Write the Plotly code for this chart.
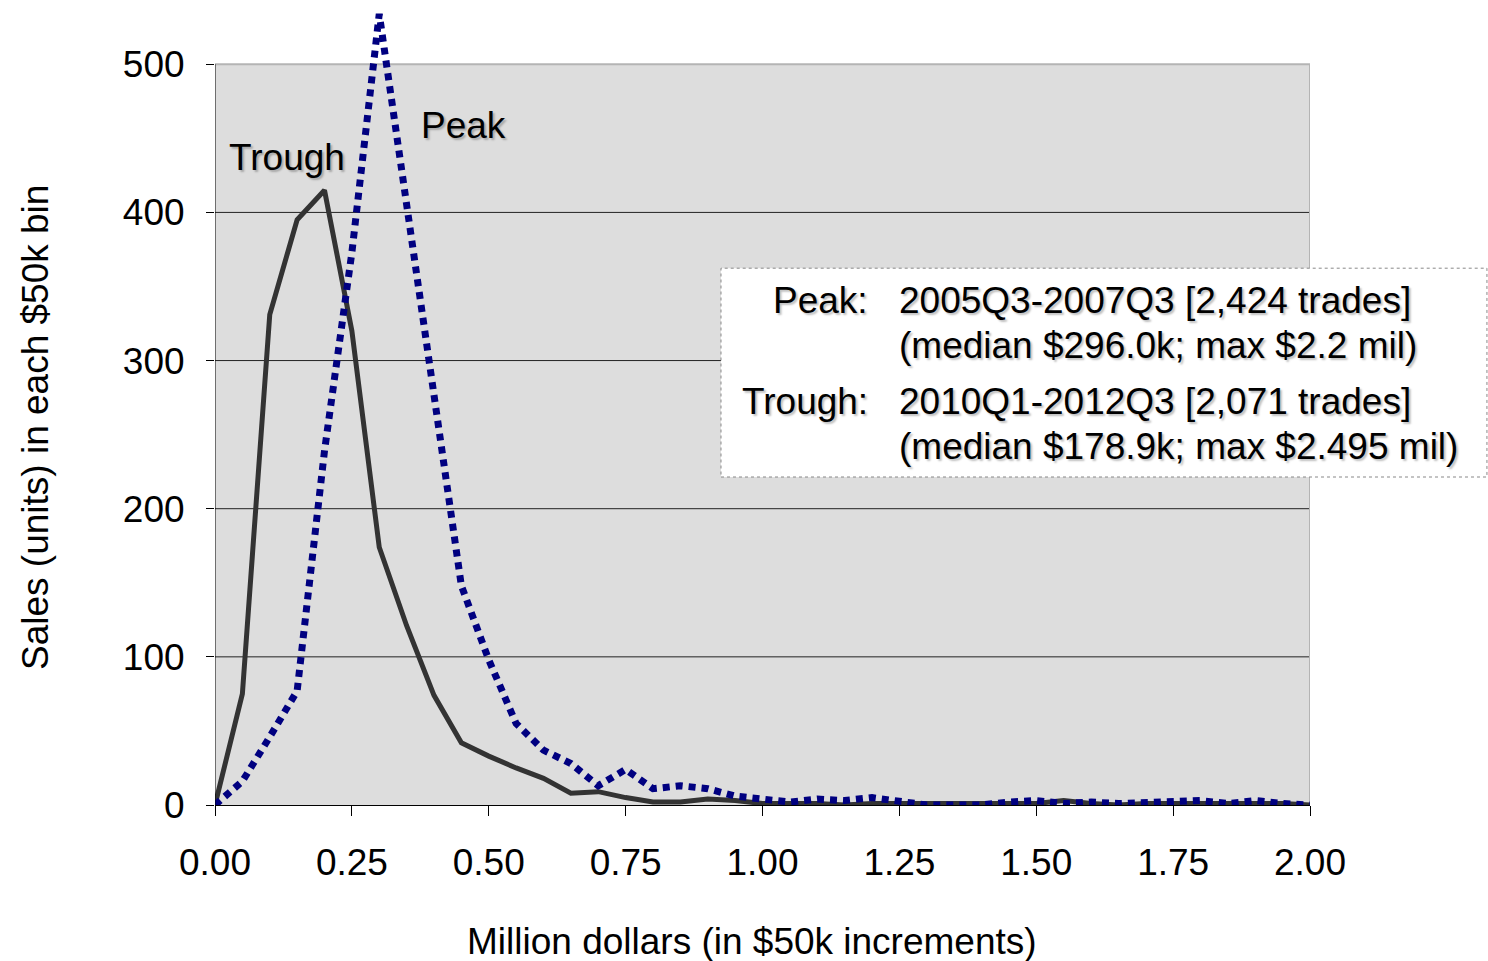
import plotly.graph_objects as go

# ---- data ----
bins = [round(i * 0.05, 2) for i in range(41)]  # bin edges 0.00 .. 2.00 (million $)
trough = [0, 75, 331, 395, 415, 320, 174, 121, 74, 42, 33, 25, 18, 8, 9, 5, 2, 2, 4, 3, 1, 1,
          1, 0, 1, 1, 1, 1, 1, 1, 1, 3, 1, 0, 1, 1, 1, 1, 1, 1, 0]
peak = [0, 16, 46, 77, 239, 373, 534, 405, 274, 148, 98, 55, 37, 28, 13, 24, 11, 13, 11, 6, 4, 2,
        4, 3, 5, 3, 0, 0, 0, 2, 3, 1, 2, 1, 2, 2, 3, 1, 3, 1, 0]
x_ticks = [0, 0.25, 0.5, 0.75, 1.0, 1.25, 1.5, 1.75, 2.0]
x_labels = ["0.00", "0.25", "0.50", "0.75", "1.00", "1.25", "1.50", "1.75", "2.00"]
y_ticks = [0, 100, 200, 300, 400, 500]

FONT = "Liberation Sans, Arial, sans-serif"
FS = 37
SHADOW = "2px 2px 2px rgba(0,0,0,0.25)"

fig = go.Figure()
fig.add_trace(go.Scatter(x=bins, y=trough, mode="lines", name="Trough",
                         line=dict(color="#333333", width=5), cliponaxis=False))
fig.add_trace(go.Scatter(x=bins, y=peak, mode="lines", name="Peak",
                         line=dict(color="#000080", width=7, dash="7px,6px"), cliponaxis=False))

shapes = [
    dict(type="rect", xref="x", yref="y", x0=0, x1=2, y0=0, y1=500,
         fillcolor="#DDDDDD", line=dict(width=0), layer="below"),
]
for g in [100, 200, 300, 400]:
    shapes.append(dict(type="line", xref="x", yref="y", x0=0, x1=2, y0=g, y1=g,
                       line=dict(color="#222222", width=1), layer="below"))
shapes += [
    dict(type="line", xref="x", yref="y", x0=0, x1=2, y0=500, y1=500,
         line=dict(color="#B4B4B4", width=2), layer="below"),
    dict(type="line", xref="x", yref="y", x0=2, x1=2, y0=0, y1=500,
         line=dict(color="#B4B4B4", width=2), layer="below"),
    dict(type="line", xref="x", yref="y", x0=0, x1=0, y0=0, y1=500,
         line=dict(color="#000000", width=1), layer="above"),
    # info box
    dict(type="rect", xref="paper", yref="paper", x0=0.4621, x1=1.1616, y0=0.41, y1=0.671,
         fillcolor="white", line=dict(color="#888888", width=1, dash="dot"), layer="above"),
]

ann_font = dict(family=FONT, size=FS, color="black", shadow=SHADOW)
annotations = [
    dict(x=0.1315, y=437, xref="x", yref="y", text="Trough", showarrow=False, font=ann_font),
    dict(x=0.453, y=459, xref="x", yref="y", text="Peak", showarrow=False, font=ann_font),
    dict(x=0.5982, y=0.63125, xref="paper", yref="paper", text="Peak:", showarrow=False,
         xanchor="right", font=ann_font),
    dict(x=0.6228, y=0.63125, xref="paper", yref="paper", text="2005Q3-2007Q3 [2,424 trades]",
         showarrow=False, xanchor="left", font=ann_font),
    dict(x=0.6228, y=0.575, xref="paper", yref="paper", text="(median $296.0k; max $2.2 mil)",
         showarrow=False, xanchor="left", font=ann_font),
    dict(x=0.5982, y=0.505, xref="paper", yref="paper", text="Trough:", showarrow=False,
         xanchor="right", font=ann_font),
    dict(x=0.6228, y=0.505, xref="paper", yref="paper", text="2010Q1-2012Q3 [2,071 trades]",
         showarrow=False, xanchor="left", font=ann_font),
    dict(x=0.6228, y=0.44875, xref="paper", yref="paper", text="(median $178.9k; max $2.495 mil)",
         showarrow=False, xanchor="left", font=ann_font),
    # axis titles
    dict(x=0.4904, y=-0.17, xref="paper", yref="paper", text="Million dollars (in $50k increments)",
         showarrow=False, xanchor="center", yanchor="middle",
         font=dict(family=FONT, size=FS, color="black")),
    dict(x=-0.1644, y=0.4725, xref="paper", yref="paper", text="Sales (units) in each $50k bin",
         showarrow=False, xanchor="center", yanchor="middle", textangle=-90,
         font=dict(family=FONT, size=FS, color="black")),
]

fig.update_layout(
    width=1488, height=961,
    margin=dict(l=215, r=178, t=5, b=156),
    paper_bgcolor="white", plot_bgcolor="white",
    showlegend=False,
    font=dict(family=FONT, size=FS, color="black"),
    shapes=shapes, annotations=annotations,
    xaxis=dict(range=[0, 2], tickvals=x_ticks, ticktext=x_labels, showgrid=False, zeroline=False,
               showline=True, linecolor="black", linewidth=1, ticks="outside", ticklen=10,
               tickcolor="black", tickwidth=1, ticklabelstandoff=15,
               tickfont=dict(family=FONT, size=FS, color="black")),
    yaxis=dict(range=[0, 540], tickvals=y_ticks, showgrid=False, zeroline=False, showline=False,
               ticks="outside", ticklen=8, tickcolor="black", tickwidth=1, ticklabelstandoff=14,
               tickfont=dict(family=FONT, size=FS, color="black")),
)

fig.write_html("out.html")
